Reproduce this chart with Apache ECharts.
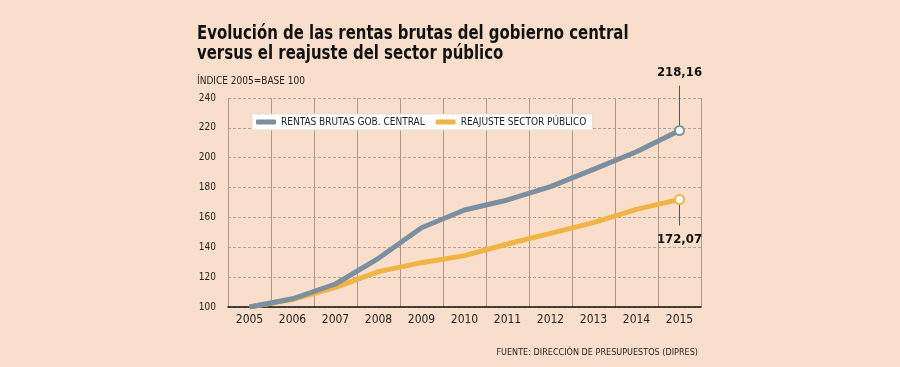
<!DOCTYPE html>
<html><head><meta charset="utf-8">
<script src="https://cdn.jsdelivr.net/npm/echarts@6/dist/echarts.min.js"></script>
<style>html,body{margin:0;padding:0;background:#f9dfcb;}#c{width:900px;height:367px;}</style>
</head><body><div id="c"></div>
<script>
const years = ['2005','2006','2007','2008','2009','2010','2011','2012','2013','2014','2015'];
const rentas = [100, 105.5, 115.4, 132.6, 153.1, 165, 171.7, 180.6, 192.2, 204, 218.16];
const reajuste = [100, 105, 113.2, 123.7, 129.7, 134.4, 142.2, 149.3, 156.5, 165.4, 172.07];
const yTicks = [100, 120, 140, 160, 180, 200, 220, 240];
const names = ['RENTAS BRUTAS GOB. CENTRAL', 'REAJUSTE SECTOR PÚBLICO'];
const titleLines = ['Evolución de las rentas brutas del gobierno central', 'versus el reajuste del sector público'];

const GRAY = '#7b8fa0', YEL = '#f0b444';
const NARROW = '"DejaVu Sans Condensed","DejaVu Sans",sans-serif';
const last = years.length - 1;
const fmt = v => v.toFixed(2).replace('.', ',');

function mkSeries(name, data, color, pos, dist) {
  return {
    name, type: 'line', data, smooth: false,
    lineStyle: { color, width: 5 },
    itemStyle: { color: '#fff', borderColor: color, borderWidth: 2 },
    symbol: 'circle', showAllSymbol: true,
    symbolSize: (v, p) => p.dataIndex === last ? 9 : 0,
    label: {
      show: true, position: pos, distance: dist,
      formatter: p => p.dataIndex === last ? fmt(p.value) : '',
      fontFamily: NARROW, fontWeight: 'bold', fontSize: 13, color: '#111'
    },
    z: name === names[0] ? 3 : 2
  };
}

const chart = echarts.init(document.getElementById('c'));
chart.setOption({
  backgroundColor: '#f9dfcb',
  animation: false,
  textStyle: { fontFamily: NARROW },
  title: [
    { text: 'ÍNDICE 2005=BASE 100', left: 192, top: 71,
      textStyle: { fontFamily: NARROW, fontWeight: 'normal', fontSize: 10, color: '#222' } },
    { text: 'FUENTE: DIRECCIÓN DE PRESUPUESTOS (DIPRES)', right: 197, top: 343,
      textStyle: { fontFamily: NARROW, fontWeight: 'normal', fontSize: 9, color: '#222' } }
  ],
  legend: {
    left: 252, top: 114,
    data: [
      { name: names[0], itemStyle: { color: GRAY, borderWidth: 0 } },
      { name: names[1], itemStyle: { color: YEL, borderWidth: 0 } }
    ],
    icon: 'roundRect',
    itemWidth: 20, itemHeight: 5, itemGap: 11,
    backgroundColor: '#fff', padding: [3, 6, 3, 4], borderColor: '#e8ddd5', borderWidth: 1,
    textStyle: { fontFamily: NARROW, fontSize: 10, color: '#222' }
  },
  grid: { left: 228, right: 199, top: 98, bottom: 60 },
  xAxis: {
    type: 'category', data: years, boundaryGap: true,
    axisLine: { lineStyle: { color: '#111', width: 1.5 } },
    axisTick: { show: false },
    axisLabel: { fontFamily: NARROW, fontSize: 12, color: '#222', margin: 7 },
    splitLine: { show: true, lineStyle: { color: '#a99a8c', width: 1 } }
  },
  yAxis: {
    type: 'value', min: yTicks[0], max: yTicks[yTicks.length - 1], interval: 20,
    axisLine: { show: false }, axisTick: { show: false },
    axisLabel: { fontFamily: NARROW, fontSize: 10, color: '#222', margin: 12 },
    splitLine: { lineStyle: { color: '#b0a496', type: [3, 2], width: 1 } }
  },
  series: [
    mkSeries(names[0], rentas, GRAY, 'top', 46),
    mkSeries(names[1], reajuste, YEL, 'bottom', 28)
  ]
});

// leader lines from the end markers to their value labels, plus the condensed title
const pTop = chart.convertToPixel({ gridIndex: 0 }, [last, rentas[last]]);
const pBot = chart.convertToPixel({ gridIndex: 0 }, [last, reajuste[last]]);
chart.setOption({
  graphic: [
    { type: 'line', shape: { x1: pTop[0], y1: pTop[1] - 5, x2: pTop[0], y2: pTop[1] - 45 },
      style: { stroke: '#555', lineWidth: 1 }, z: 1 },
    { type: 'line', shape: { x1: pBot[0], y1: pBot[1] + 5, x2: pBot[0], y2: pBot[1] + 26 },
      style: { stroke: '#555', lineWidth: 1 }, z: 1 },
    { type: 'text', left: 197, top: 24, scaleX: 0.83,
      style: { text: titleLines.join('\n'), fontFamily: NARROW, fontWeight: 'bold', fontSize: 20, lineHeight: 20, fill: '#111' } }
  ]
});
</script></body></html>
